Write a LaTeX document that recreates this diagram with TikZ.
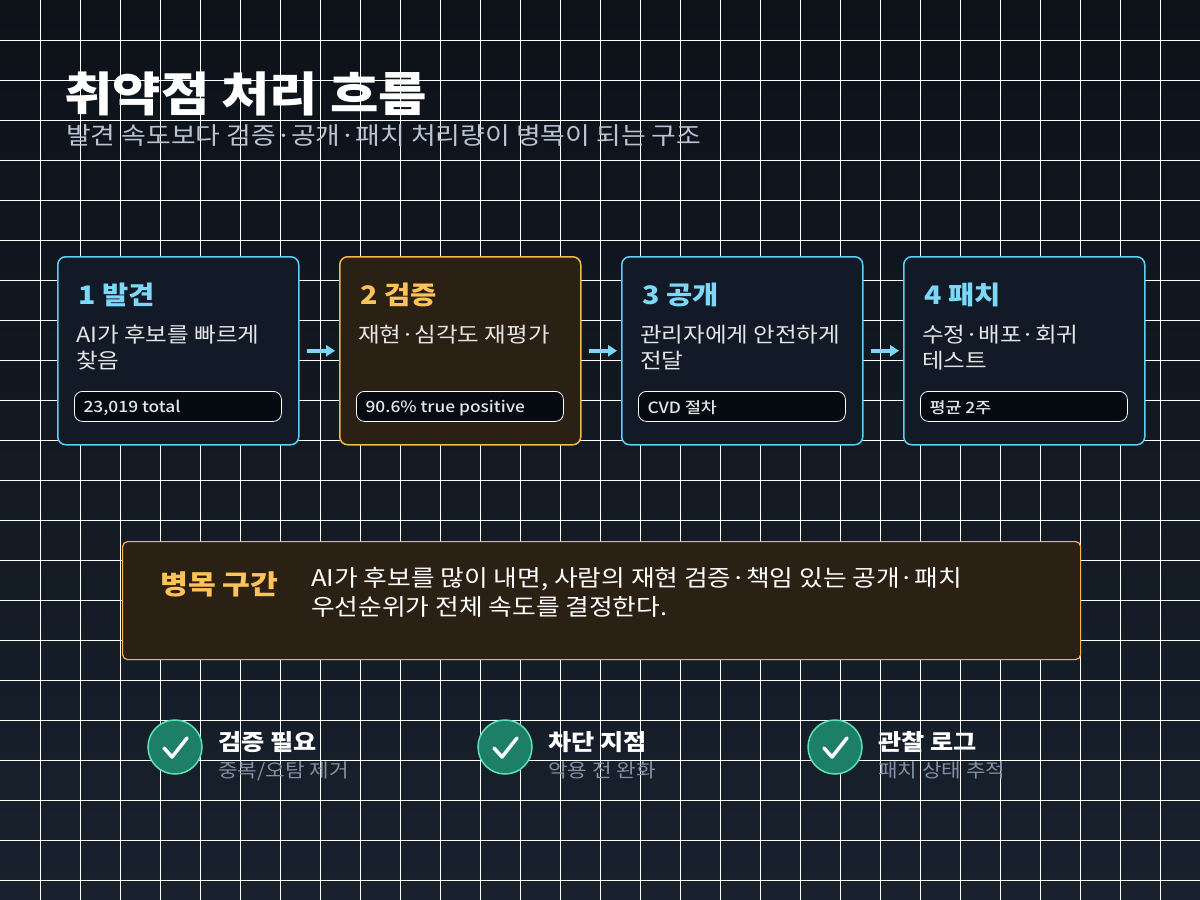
\documentclass[tikz,border=0pt]{standalone}
\usepackage{fontspec}
\setmainfont{Noto Sans CJK KR}[FakeStretch=1.12]
\newfontfamily\medfont{Noto Sans CJK KR Medium}[FakeStretch=1.12]
\usetikzlibrary{arrows.meta}
\definecolor{bgtop}{HTML}{0D1219}
\definecolor{bgbot}{HTML}{18212D}
\definecolor{cyanb}{HTML}{5CCFF5}
\definecolor{cyant}{HTML}{7DD8F8}
\definecolor{orb}{HTML}{F5B74A}
\definecolor{ort}{HTML}{FFC35A}
\definecolor{cardbg}{HTML}{111A26}
\definecolor{orbg}{HTML}{2B2014}
\definecolor{pillbg}{HTML}{060B12}
\definecolor{subc}{HTML}{B8C4D4}
\definecolor{grayc}{HTML}{8391A5}
\definecolor{chk}{HTML}{1E7F68}
\definecolor{chkb}{HTML}{5EE0B5}
\tikzset{
 card/.style={draw=#1,line width=1.5pt,rounded corners=8pt,minimum width=241pt,minimum height=188pt,anchor=north west},
 pill/.style={draw=white,line width=0.8pt,rounded corners=8pt,fill=pillbg,minimum width=207pt,minimum height=30pt,anchor=north west},
 ctitle/.style={anchor=base west,font=\fontsize{25.5}{28}\selectfont\bfseries},
 cdesc/.style={anchor=north west,text=white!90!black,font=\fontsize{21}{26}\selectfont,align=left,inner sep=0pt},
 ptext/.style={anchor=west,text=white!90!black,font=\medfont\fontsize{15.5}{18}\selectfont},
 flow/.style={-{Triangle[length=9pt,width=11pt]},line width=3.5pt,draw=cyant},
 chkc/.style={circle,fill=chk,draw=chkb,line width=1.5pt,minimum size=54pt},
}
\begin{document}
\begin{tikzpicture}[x=1pt,y=-1pt]
\useasboundingbox (0,0) rectangle (1200,900);
\shade[top color=bgtop,bottom color=bgbot] (0,0) rectangle (1200,900);
\foreach \k in {1,...,29}{\draw[white,line width=1pt] (\k*40,0) -- (\k*40,900);}
\foreach \k in {1,...,22}{\draw[white,line width=1pt] (0,\k*40) -- (1200,\k*40);}
\node[anchor=base west,inner sep=0pt,text=white,font=\fontsize{47}{50}\selectfont\bfseries] (title) at (64,111) {취약점 처리 흐름};
\node[anchor=base west,inner sep=0pt,text=subc,font=\fontsize{24}{28}\selectfont] (sub) at (66,144) {발견 속도보다 검증·공개·패치 처리량이 병목이 되는 구조};
\foreach \i/\x/\bc/\fc/\tc/\t/\d/\p in {
 1/57/cyanb/cardbg/cyant/{1 발견}/{AI가 후보를 빠르게\\찾음}/{23,019 total},
 2/339/orb/orbg/ort/{2 검증}/{재현·심각도 재평가}/{90.6\% true positive},
 3/621/cyanb/cardbg/cyant/{3 공개}/{관리자에게 안전하게\\전달}/{CVD 절차},
 4/903/cyanb/cardbg/cyant/{4 패치}/{수정·배포·회귀\\테스트}/{평균 2주}}{
 \node[card=\bc,fill=\fc] (c\i) at (\x,256) {};
 \node[ctitle,text=\tc,inner sep=0pt] (t\i) at (\x+21,304) {\t};
 \node[cdesc] (d\i) at (\x+19,325) {\d};
 \node[pill] (p\i) at (\x+17,391) {};
 \node[ptext] (q\i) at ([xshift=6pt,yshift=-1.5pt]p\i.west) {\p};
}
\foreach \a/\b in {1/2,2/3,3/4}{
 \draw[flow] ([xshift=7pt]c\a.east) -- ([xshift=-4pt]c\b.west);
}
\node[draw=orb,fill=orbg,line width=1.2pt,rounded corners=5pt,minimum width=958pt,minimum height=118pt,anchor=north west] (bn) at (122,541) {};
\node[anchor=base west,inner sep=0pt,text=ort,font=\fontsize{27}{32}\selectfont\bfseries] (bnt) at (160,594) {병목 구간};
\node[anchor=north west,inner sep=0pt,text=white,align=left,font=\fontsize{23}{29}\selectfont] (bnd) at (311,567) {AI가 후보를 많이 내면, 사람의 재현 검증·책임 있는 공개·패치\\우선순위가 전체 속도를 결정한다.};
\foreach \i/\x/\h/\s in {1/175/{검증 필요}/{중복/오탐 제거},2/505/{차단 지점}/{악용 전 완화},3/835/{관찰 로그}/{패치 상태 추적}}{
 \node[chkc] (k\i) at (\x,747) {};
 \draw[white,line width=3.5pt,line cap=round,line join=round] ([shift={(-11,1)}]k\i.center) -- ([shift={(-3,10)}]k\i.center) -- ([shift={(12,-9)}]k\i.center);
 \node[anchor=base west,inner sep=0pt,text=white,font=\fontsize{22.5}{26}\selectfont\bfseries] (h\i) at (\x+43,750) {\h};
 \node[anchor=base west,inner sep=0pt,text=grayc,font=\fontsize{19}{22}\selectfont] (u\i) at (\x+43,777) {\s};
}
\end{tikzpicture}
\end{document}
